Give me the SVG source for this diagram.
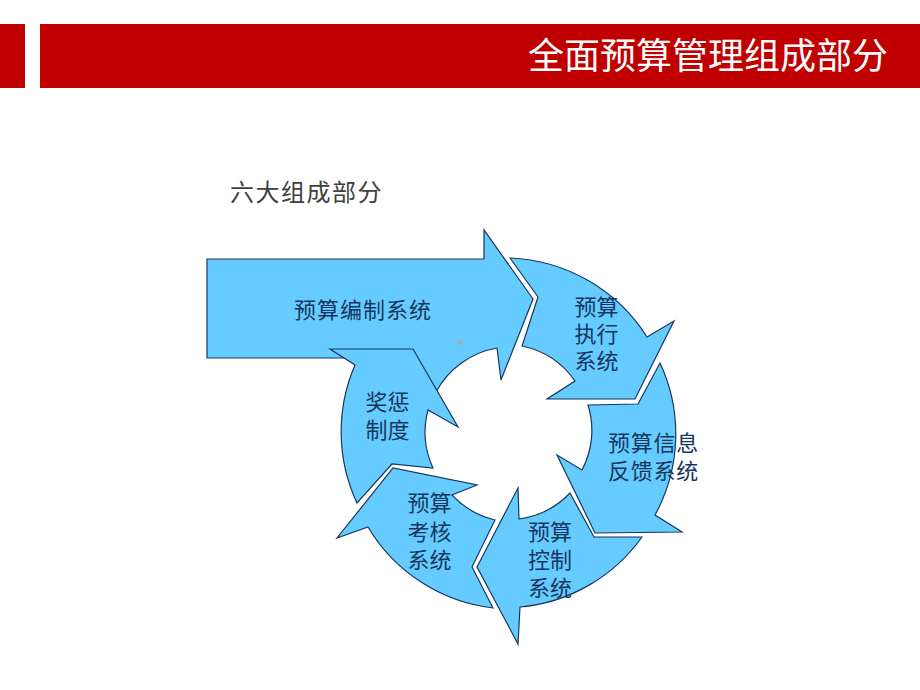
<svg xmlns="http://www.w3.org/2000/svg" width="920" height="690" viewBox="0 0 920 690">
<style>
.arr{fill:#66CCFF;stroke:#17375E;stroke-width:1.2;stroke-linejoin:miter}
.lbl{font-family:"Noto Sans CJK SC","Noto Sans",sans-serif;font-size:22px;fill:#17375E;text-anchor:middle}
.title{font-family:"Noto Sans CJK SC","Noto Sans",sans-serif;font-size:36px;fill:#FFFFFF;text-anchor:end}
.sub{font-family:"Noto Sans CJK SC","Noto Sans",sans-serif;font-size:24px;fill:#404040;letter-spacing:1.5px}
</style>
<rect width="920" height="690" fill="#FFFFFF"/>
<g id="header">
<rect x="0" y="24" width="25" height="64" fill="#C00000"/>
<rect x="40" y="24" width="880" height="64" fill="#C00000"/>
<text class="title" x="888" y="69">全面预算管理组成部分</text>
</g>
<g id="subtitle">
<text class="sub" x="230" y="201">六大组成部分</text>
</g>
<g id="node-bianzhi">
<path class="arr" d="M207,259 H484 V230 L533,299 L501,380 L497,348 A86,86 0 0 0 436,392 L400,358 H207 Z"/>
<rect x="457" y="339" width="6" height="6" fill="#8FB4D6"/>
<text class="lbl" x="363" y="318" letter-spacing="1">预算编制系统</text>
</g>
<g id="node-zhixing">
<path class="arr" d="M510,258 A170,170 0 0 1 647,337 L674,321 L635,399 L547,399 L575,381 A86,86 0 0 0 522,346 L538,297 Z"/>
<text class="lbl" y="315"><tspan x="596.5">预算</tspan><tspan x="596.5" dy="27">执行</tspan><tspan x="596.5" dy="27">系统</tspan></text>
</g>
<g id="node-fankui">
<path class="arr" d="M660,363 A168,168 0 0 1 655,515 L682,532 L595,533 L557,455 L582,470 A85,85 0 0 0 588,405 L638,404 Z"/>
<text class="lbl" y="451" letter-spacing="0.8"><tspan x="653.5">预算信息</tspan><tspan x="653.5" dy="28">反馈系统</tspan></text>
</g>
<g id="node-kongzhi">
<path class="arr" d="M642,537 A168,168 0 0 1 520,607 L518,644 L477,567 L518,488 L519,519 A86,86 0 0 0 570,493 L594,537 Z"/>
<text class="lbl" y="540"><tspan x="550">预算</tspan><tspan x="550" dy="28">控制</tspan><tspan x="550" dy="28">系统</tspan></text>
</g>
<g id="node-kaohe">
<path class="arr" d="M493,608 A168,168 0 0 1 368,527 L337,538 L393,468 L477,485 L452,495 A86,86 0 0 0 495,520 L472,567 Z"/>
<text class="lbl" y="511"><tspan x="429.5">预算</tspan><tspan x="429.5" dy="29">考核</tspan><tspan x="429.5" dy="28">系统</tspan></text>
</g>
<g id="node-jiangcheng">
<path class="arr" d="M357,503 A168,168 0 0 1 355,365 L330,349 L413,349 L458,427 L428,410 A86,86 0 0 0 433,468 L392,464 Z"/>
<text class="lbl" y="410"><tspan x="387.5">奖惩</tspan><tspan x="387.5" dy="28">制度</tspan></text>
</g>
<g id="connectors"></g>
</svg>
